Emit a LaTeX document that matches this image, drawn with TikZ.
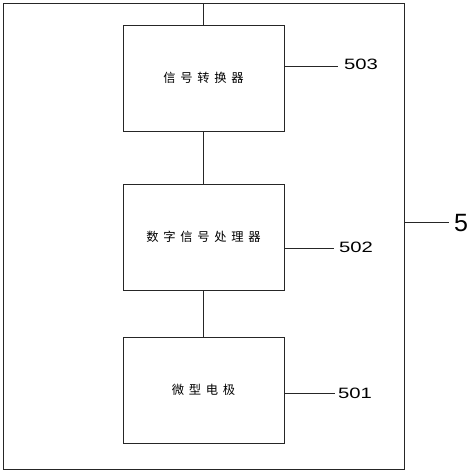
\documentclass[tikz,border=0pt]{standalone}
\usepackage{fontspec}
\newfontfamily\cjkfont[LetterSpace=38]{Noto Sans CJK SC}
\newfontfamily\numfont[FakeStretch=1.35]{Liberation Sans}
\newfontfamily\bignumfont{Liberation Sans}
\begin{document}
\begin{tikzpicture}[x=1pt,y=-1pt,
  ln/.style={line width=0.9pt,draw=black!85},
  blk/.style={ln,rectangle,minimum width=161pt,minimum height=106pt,inner sep=0pt,font=\cjkfont\fontsize{12.3}{13}\selectfont},
  num/.style={inner sep=0pt,anchor=west,font=\numfont\fontsize{15}{16}\selectfont},
  big/.style={inner sep=0pt,anchor=west,font=\bignumfont\fontsize{25}{26}\selectfont}]
\useasboundingbox (0,0) rectangle (474,474);
\node[ln,rectangle,minimum width=401pt,minimum height=466pt,inner sep=0pt] (outer) at (203.5,236) {};
\node[blk] (b3) at (203.5,78) {信号转换器};
\node[blk] (b2) at (203.5,237) {数字信号处理器};
\node[blk] (b1) at (203.5,390) {微型电极};
\coordinate (top) at (203.5,3);
\draw[ln] (top) -- (b3.north);
\draw[ln] (b3.south) -- (b2.north);
\draw[ln] (b2.south) -- (b1.north);
\node[num] (l503) at (344,64) {503};
\node[num] (l502) at (339,247) {502};
\node[num] (l501) at (338,393) {501};
\node[big] (l5) at (454,223) {5};
\coordinate (e503) at (338,66);
\coordinate (e502) at (334,248);
\coordinate (e501) at (335,393);
\coordinate (e5) at (449,222);
\draw[ln] (b3.east |- e503) -- (e503);
\draw[ln] (b2.east |- e502) -- (e502);
\draw[ln] (b1.east |- e501) -- (e501);
\draw[ln] (outer.east |- e5) -- (e5);
\end{tikzpicture}
\end{document}
